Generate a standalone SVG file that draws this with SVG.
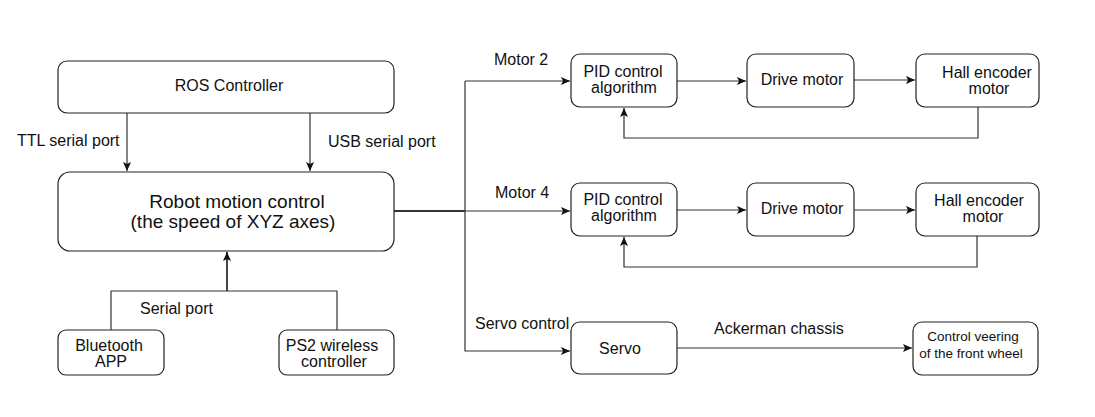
<svg xmlns="http://www.w3.org/2000/svg" width="1095" height="417" viewBox="0 0 1095 417">
<style>
.box{fill:#fff;stroke:#222;stroke-width:1.2}
.t{font-family:"Liberation Sans",Arial,sans-serif;font-size:16px;fill:#111;text-anchor:middle}
.l{font-family:"Liberation Sans",Arial,sans-serif;font-size:16px;fill:#111}
.s{font-size:13.5px}
.big{font-size:19px}
.c{fill:none;stroke:#333;stroke-width:1.2}
.thick{stroke-width:1.8}
</style>
<defs>
<marker id="a" markerWidth="10" markerHeight="8" refX="9" refY="4" orient="auto" markerUnits="userSpaceOnUse">
<path d="M0,0 L9,4 L0,8 L2,4 Z" fill="#111"/>
</marker>
</defs>
<rect width="1095" height="417" fill="#fff"/>
<g id="connectors">
<line class="c" x1="127" y1="113" x2="127" y2="171" marker-end="url(#a)"/>
<line class="c" x1="310" y1="113" x2="310" y2="171" marker-end="url(#a)"/>
<line class="c thick" x1="394" y1="211" x2="465" y2="211"/>
<polyline class="c" points="465,81 465,351 570,351" marker-end="url(#a)"/>
<line class="c" x1="465" y1="81" x2="570" y2="81" marker-end="url(#a)"/>
<line class="c" x1="465" y1="211" x2="570" y2="211" marker-end="url(#a)"/>
<line class="c" x1="677" y1="81" x2="746" y2="81" marker-end="url(#a)"/>
<line class="c" x1="849" y1="80" x2="915" y2="80" marker-end="url(#a)"/>
<polyline class="c" points="978,107 978,138 624,138 624,108" marker-end="url(#a)"/>
<line class="c" x1="677" y1="210" x2="746" y2="210" marker-end="url(#a)"/>
<line class="c" x1="849" y1="210" x2="915" y2="210" marker-end="url(#a)"/>
<polyline class="c" points="977,236 977,267 624,267 624,237" marker-end="url(#a)"/>
<line class="c" x1="677" y1="348" x2="912" y2="348" marker-end="url(#a)"/>
<polyline class="c" points="111,330 111,291 337,291 337,330"/>
<line class="c thick" x1="227" y1="291" x2="227" y2="252" marker-end="url(#a)"/>
<text class="l" x="17" y="146">TTL serial port</text>
<text class="l" x="328" y="147">USB serial port</text>
<text class="l" x="140" y="314">Serial port</text>
<text class="l" x="494" y="65">Motor 2</text>
<text class="l" x="495" y="198">Motor 4</text>
<text class="l" x="475" y="329">Servo control</text>
<text class="l" x="714" y="334">Ackerman chassis</text>
</g>
<g id="ros">
<rect class="box" x="58" y="61" width="336" height="52" rx="9"/>
<text class="t" x="229" y="91">ROS Controller</text>
</g>
<g id="robot">
<rect class="box" x="58" y="172" width="336" height="79" rx="12"/>
<text class="t big" x="237" y="208">Robot motion control</text>
<text class="t big" x="233" y="228">(the speed of XYZ axes)</text>
</g>
<g id="bluetooth">
<rect class="box" x="58" y="330" width="106" height="45" rx="8"/>
<text class="t" x="109" y="351">Bluetooth</text>
<text class="t" x="111" y="367">APP</text>
</g>
<g id="ps2">
<rect class="box" x="279" y="330" width="115" height="45" rx="8"/>
<text class="t" x="332" y="351">PS2 wireless</text>
<text class="t" x="334" y="367">controller</text>
</g>
<g id="pid2">
<rect class="box" x="571" y="54" width="106" height="53" rx="9"/>
<text class="t" x="623" y="77">PID control</text>
<text class="t" x="624" y="93">algorithm</text>
</g>
<g id="drive2">
<rect class="box" x="747" y="54" width="107" height="53" rx="9"/>
<text class="t" x="802" y="85">Drive motor</text>
</g>
<g id="hall2">
<rect class="box" x="916" y="54" width="123" height="53" rx="9"/>
<text class="t" x="987" y="78">Hall encoder</text>
<text class="t" x="989" y="94">motor</text>
</g>
<g id="pid4">
<rect class="box" x="571" y="183" width="106" height="53" rx="9"/>
<text class="t" x="623" y="205">PID control</text>
<text class="t" x="624" y="221">algorithm</text>
</g>
<g id="drive4">
<rect class="box" x="747" y="183" width="107" height="53" rx="9"/>
<text class="t" x="802" y="214">Drive motor</text>
</g>
<g id="hall4">
<rect class="box" x="916" y="183" width="123" height="53" rx="9"/>
<text class="t" x="979" y="206">Hall encoder</text>
<text class="t" x="983" y="222">motor</text>
</g>
<g id="servo">
<rect class="box" x="571" y="322" width="106" height="52" rx="9"/>
<text class="t" x="620" y="354">Servo</text>
</g>
<g id="veering">
<rect class="box" x="913" y="322" width="125" height="53" rx="9"/>
<text class="t s" x="973" y="341">Control veering</text>
<text class="t s" x="971" y="358">of the front wheel</text>
</g>
</svg>
